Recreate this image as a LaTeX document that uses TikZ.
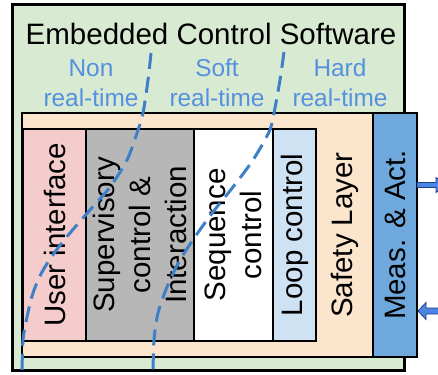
\documentclass[tikz,border=0pt]{standalone}
\usepackage{fontspec}
\setmainfont{Liberation Sans}
\usetikzlibrary{calc}

\definecolor{ecsgreen}{HTML}{D9EAD3}
\definecolor{safeorange}{HTML}{FCE5CD}
\definecolor{uipink}{HTML}{F4CCCC}
\definecolor{supgray}{HTML}{B7B7B7}
\definecolor{looplight}{HTML}{CFE2F3}
\definecolor{measblue}{HTML}{6FA8DC}
\definecolor{rtblue}{HTML}{5590E0}
\definecolor{dashblue}{HTML}{3D80C8}
\definecolor{arrowblue}{HTML}{4A86E8}
\definecolor{arrowedge}{HTML}{1F3F80}

\tikzset{
  panel/.style={draw=black, anchor=north west, inner sep=0pt, outer sep=0pt},
  bigtext/.style={font=\fontsize{29.5}{36}\selectfont, align=center, inner sep=0pt},
  rttext/.style={font=\fontsize{24.4}{30}\selectfont, text=rtblue, anchor=base, inner sep=0pt},
  coltext/.style={bigtext, rotate=90},
  rtborder/.style={draw=dashblue, line width=3pt, dash pattern=on 16pt off 8pt},
  blockarrow/.style={fill=arrowblue, draw=arrowedge, line width=0.8pt, line join=miter}
}

\begin{document}
\begin{tikzpicture}[x=1pt, y=-1pt]
  \useasboundingbox (0,0) rectangle (438,374);
  \clip (0,0) rectangle (438,374);

  % outer software frame
  \node[panel, fill=ecsgreen, line width=3pt, minimum width=392pt, minimum height=365pt] (ecs) at (12,5) {};

  % safety layer and measurement / actuation block
  \node[panel, fill=safeorange, line width=1.5pt, minimum width=351pt, minimum height=244pt] (safety) at (22,113) {};
  \node[panel, fill=measblue, line width=2pt, minimum width=44pt, minimum height=244pt] (meas) at (373,113) {};

  % control layers
  \node[panel, fill=uipink, line width=2pt, minimum width=63pt, minimum height=212pt] (ui) at (23,129) {};
  \node[panel, fill=supgray, line width=2pt, minimum width=108pt, minimum height=212pt] (sup) at (86,129) {};
  \node[panel, fill=white, line width=2pt, minimum width=79pt, minimum height=212pt] (seq) at (194,129) {};
  \node[panel, fill=looplight, line width=2pt, minimum width=43pt, minimum height=212pt] (loop) at (273,129) {};

  % headings
  \node[bigtext, anchor=base] (title) at (211,45) {Embedded Control Software};
  \node[rttext] (nonA) at (91,77) {Non};
  \node[rttext] (nonB) at (91,107) {real-time};
  \node[rttext] (softA) at (217,77) {Soft};
  \node[rttext] (softB) at (217,107) {real-time};
  \node[rttext] (hardA) at (340,77) {Hard};
  \node[rttext] (hardB) at (340,107) {real-time};

  % layer labels
  \node[coltext] (uitxt) at (54.5,235) {User interface};
  \node[coltext] (suptxt) at (140,235) {Supervisory\\control \&\\Interaction};
  \node[coltext] (seqtxt) at (233.5,235) {Sequence\\control};
  \node[coltext] (looptxt) at (294.5,235) {Loop control};
  \node[coltext] (safetxt) at (344.5,235) {Safety Layer};
  \node[coltext] (meastxt) at (395,235) {Meas. \& Act.};

  % real-time class boundaries
  \draw[rtborder] plot[smooth, tension=0.5] coordinates {
    (151,53) (148,80) (143,113) (137,133) (127,160) (110,187) (90,210)
    (70,233) (55,252) (42,272) (33,293) (27,317) (23,340) (22,374)};
  \draw[rtborder] plot[smooth, tension=0.5] coordinates {
    (284,52) (280,80) (274,113) (269,132) (253,160) (233,187) (213,212)
    (197,234) (180,260) (167,287) (158,313) (154,340) (153,374)};

  % measurement output and actuation input
  \coordinate (outA) at ($(meas.east)+(0,-50)$);
  \coordinate (inA) at ($(meas.east)+(0,76)$);
  \draw[blockarrow] (outA) ++(0,-2.5) -- ++(19,0) -- ++(0,-5) -- ++(11,7.5)
    -- ++(-11,7.5) -- ++(0,-5) -- ++(-19,0) -- cycle;
  \draw[blockarrow] (inA) ++(1,0) -- ++(8,-8.5) -- ++(0,5.5) -- ++(30,0)
    -- ++(0,6) -- ++(-30,0) -- ++(0,5.5) -- cycle;
\end{tikzpicture}
\end{document}
